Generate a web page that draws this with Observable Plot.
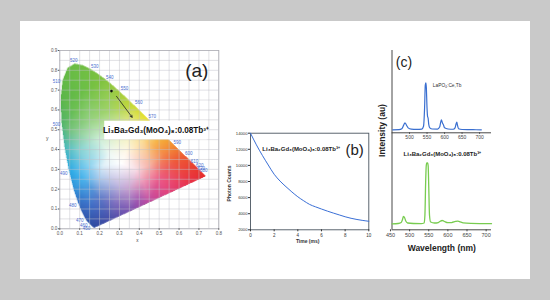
<!DOCTYPE html>
<html><head><meta charset="utf-8">
<script src="https://cdn.jsdelivr.net/npm/d3@7"></script>
<script src="https://cdn.jsdelivr.net/npm/@observablehq/plot@0.6"></script>
<style>
body{margin:0;background:#c9c9c9;}
#page{position:relative;width:550px;height:300px;background:#c9c9c9;overflow:hidden;font-family:"Liberation Sans",Arial,sans-serif;}
#card{position:absolute;left:20px;top:21px;width:510px;height:258px;background:#fff;}
.panel{position:absolute;}
.panel svg{overflow:visible;}
</style></head>
<body>
<div id="page"><div id="card"></div>
<div id="pa" class="panel" style="left:40px;top:40px"></div>
<div id="pb" class="panel" style="left:225px;top:125px"></div>
<div id="pc2" class="panel" style="left:370px;top:132px"></div>
<div id="pc1" class="panel" style="left:370px;top:40px"></div>
</div>
<script>
const FONT = '"Liberation Sans", Arial, sans-serif';
const sampleLabel = "Li₃Ba₂Gd₃(MoO₄)₈:0.08Tb³⁺";

// ---------- (a) CIE 1931 chromaticity diagram ----------
const locusNm = [380,410,430,440,450,460,465,470,475,480,485,490,495,500,505,510,515,520,525,530,535,540,545,550,555,560,565,570,575,580,585,590,595,600,605,610,620,630,640,650,680,700];
const locusX = [0.1741,0.1733,0.1690,0.1644,0.1566,0.1440,0.1355,0.1241,0.1096,0.0913,0.0687,0.0454,0.0235,0.0082,0.0039,0.0139,0.0389,0.0743,0.1142,0.1547,0.1929,0.2296,0.2658,0.3016,0.3373,0.3731,0.4087,0.4441,0.4788,0.5125,0.5448,0.5752,0.6029,0.6270,0.6482,0.6658,0.6915,0.7079,0.7190,0.7260,0.7334,0.7347];
const locusY = [0.0050,0.0048,0.0069,0.0109,0.0177,0.0297,0.0399,0.0578,0.0868,0.1327,0.2007,0.2950,0.4127,0.5384,0.6548,0.7502,0.8120,0.8338,0.8262,0.8059,0.7816,0.7543,0.7243,0.6923,0.6589,0.6245,0.5896,0.5547,0.5202,0.4866,0.4544,0.4242,0.3965,0.3725,0.3514,0.3340,0.3083,0.2920,0.2809,0.2740,0.2666,0.2653];

// colour anchors (x, y, colour)
const anchorX = [0.1741,0.1440,0.1241,0.0913,0.0687,0.0454,0.0235,0.0082,0.0039,0.0139,0.0743,0.1547,0.2296,0.3016,0.3731,0.4441,0.5125,0.5752,0.6270,0.6915,0.7347,
  0.65,0.55,0.45,0.35,0.26,
  0.31,0.33,0.25,0.20,0.15,0.08,0.12,0.25,0.35,0.42,0.47,0.52,0.58,0.45,0.50,0.38,0.35,0.30,0.28,0.40,0.20,0.15,0.20,0.12,0.15,0.22,0.09,0.05,0.42];
const anchorY = [0.0050,0.0297,0.0578,0.1327,0.2007,0.2950,0.4127,0.5384,0.6548,0.7502,0.8338,0.8059,0.7543,0.6923,0.6245,0.5547,0.4866,0.4242,0.3725,0.3083,0.2653,
  0.228,0.181,0.135,0.088,0.046,
  0.33,0.38,0.38,0.45,0.55,0.60,0.70,0.60,0.50,0.45,0.42,0.38,0.34,0.32,0.25,0.30,0.20,0.22,0.13,0.15,0.15,0.12,0.25,0.25,0.32,0.32,0.40,0.50,0.24];
const anchorColor = ["#2b4aa0","#2d52a8","#3058b0","#3470c4","#3090d8","#28a8e4","#48b8b8","#52b468","#5ab54a","#62b946","#6cbd44","#74bf42","#84c43e","#a2cc3a","#c8d932","#ece228","#f6be30","#f28c30","#ee5c30","#e93a2e","#e52a2a",
  "#e8304a","#e2407a","#c048a0","#7850b0","#4a4ea8",
  "#ffffff","#fff8ec","#eef8f4","#cdeed8","#96d282","#6ec155","#6cbf46","#a2d468","#f0f0b0","#fbdc90","#f8b458","#f48a48","#ee5a3c","#f6b4a8","#ec5c88","#f8e0e8","#c8a0d0","#c4b8e0","#8070c0","#a858b0","#5a78c8","#3e70c8","#a8c8ec","#4cb4ec","#90d4f0","#e0f0f8","#80d0d0","#74c27c","#ee9ab8"];

const wlLabels = ["520","530","540","550","560","570","590","600","610","620","630","680","510","500","490","480","470","460","450"];
const wlLabelX = [0.0705,0.176,0.2516,0.3255,0.3975,0.465,0.5906,0.649,0.6777,0.7044,0.7114,0.7245,-0.0166,-0.0166,0.020,0.0654,0.1006,0.1208,0.1343];
const wlLabelY = [0.8495,0.819,0.765,0.7067,0.636,0.567,0.437,0.3816,0.341,0.3195,0.3058,0.2943,0.743,0.5264,0.2806,0.1176,0.0419,0.0167,0.003];

const cieXTicks = [0,0.1,0.2,0.3,0.4,0.5,0.6,0.7,0.8];
const cieYTicks = [0,0.1,0.2,0.3,0.4,0.5,0.6,0.7,0.8,0.9];
const cieGridX = d3.range(0, 0.8001, 0.05);
const cieGridY = d3.range(0, 0.9001, 0.05);
const samplePoint = [{x: 0.26, y: 0.695}];
const sampleArrow = [{x1: 0.285, y1: 0.669, x2: 0.364, y2: 0.563}];
const labelBox = [{x1: 0.226, x2: 0.742, y1: 0.449, y2: 0.543}];
const labelPos = [{x: 0.484, y: 0.496, text: sampleLabel}];

const anchors = anchorX.map((x, i) => ({x, y: anchorY[i], c: d3.rgb(anchorColor[i])}));
const del = d3.Delaunay.from(anchors, d => d.x, d => d.y);
const tris = [];
for (let i = 0; i < del.triangles.length; i += 3) {
  const a = anchors[del.triangles[i]], b = anchors[del.triangles[i+1]], c = anchors[del.triangles[i+2]];
  const det = (b.y - c.y) * (a.x - c.x) + (c.x - b.x) * (a.y - c.y);
  tris.push({a, b, c, det, x0: Math.min(a.x,b.x,c.x), x1: Math.max(a.x,b.x,c.x), y0: Math.min(a.y,b.y,c.y), y1: Math.max(a.y,b.y,c.y)});
}
const locusPoly = locusX.map((x, i) => [x, locusY[i]]);
function cieColor(x, y) {
  if (!d3.polygonContains(locusPoly, [x, y])) return null;
  for (const t of tris) {
    if (x < t.x0 || x > t.x1 || y < t.y0 || y > t.y1) continue;
    const l1 = ((t.b.y - t.c.y) * (x - t.c.x) + (t.c.x - t.b.x) * (y - t.c.y)) / t.det;
    const l2 = ((t.c.y - t.a.y) * (x - t.c.x) + (t.a.x - t.c.x) * (y - t.c.y)) / t.det;
    const l3 = 1 - l1 - l2;
    if (l1 >= -1e-9 && l2 >= -1e-9 && l3 >= -1e-9) {
      const r = l1 * t.a.c.r + l2 * t.b.c.r + l3 * t.c.c.r;
      const g = l1 * t.a.c.g + l2 * t.b.c.g + l3 * t.c.c.g;
      const b = l1 * t.a.c.b + l2 * t.b.c.b + l3 * t.c.c.b;
      return `rgb(${Math.round(r)},${Math.round(g)},${Math.round(b)})`;
    }
  }
  return anchors[del.find(x, y)].c.formatRgb();
}

const wlData = wlLabels.map((t, i) => ({t, x: wlLabelX[i], y: wlLabelY[i]}));

const chartA = Plot.plot({
  width: 190, height: 210,
  marginLeft: 19.3, marginRight: 11.7, marginTop: 10, marginBottom: 21.7,
  style: {fontFamily: FONT, background: "transparent", overflow: "visible"},
  x: {domain: [0, 0.8]}, y: {domain: [0, 0.9]},
  marks: [
    Plot.raster({x1: 0, y1: 0, x2: 0.8, y2: 0.9, fill: cieColor, pixelSize: 0.5, imageRendering: "auto"}),
    Plot.gridX(cieGridX, {stroke: "#c0c0c8", strokeOpacity: 0.8, strokeWidth: 0.6}),
    Plot.gridY(cieGridY, {stroke: "#c0c0c8", strokeOpacity: 0.8, strokeWidth: 0.6}),
    Plot.frame({stroke: "#a8a8b0", strokeWidth: 0.7}),
    Plot.text(wlData, {x: "x", y: "y", text: "t", fill: "#4a6fd0", fontSize: 4.5}),
    Plot.arrow(sampleArrow, {x1: "x1", y1: "y1", x2: "x2", y2: "y2", stroke: "#222", strokeWidth: 0.8, headLength: 4}),
    Plot.dot(samplePoint, {x: "x", y: "y", r: 1.3, fill: "#111"}),
    Plot.rect(labelBox, {x1: "x1", x2: "x2", y1: "y1", y2: "y2", fill: "white"}),
    Plot.text(labelPos, {x: "x", y: "y", text: "text", fontSize: 8.2, fontWeight: "bold", fill: "#111"}),
    Plot.text(["(a)"], {text: d => d, frameAnchor: "top-right", dx: -22, dy: 20, lineAnchor: "middle", textAnchor: "middle", fontSize: 19, fill: "#222"}),
    Plot.axisX({ticks: cieXTicks, tickFormat: d3.format(".1f"), tickSize: 1.5, tickPadding: 1.5, fontSize: 4.5, color: "#555", label: null}),
    Plot.axisY({ticks: cieYTicks, tickFormat: d3.format(".1f"), tickSize: 1.5, tickPadding: 1, fontSize: 4.5, color: "#555", label: null}),
    Plot.text(["x"], {text: d => d, frameAnchor: "bottom", dx: -2, dy: 11.7, lineAnchor: "middle", textAnchor: "middle", fontSize: 4.5, fill: "#444"}),
    Plot.text(["y"], {text: d => d, frameAnchor: "left", dx: -12.6, dy: -1, lineAnchor: "middle", textAnchor: "middle", fontSize: 5, fill: "#444"})
  ]
});
document.getElementById("pa").append(chartA);

// ---------- (b) decay curve ----------
const decayTime = [0,0.5,1,1.5,2,2.5,3,3.5,4,4.5,5,5.5,6,6.5,7,7.5,8,8.5,9,9.5,10];
const decayCounts = [14000,12550,11250,10050,8900,8050,7350,6700,6100,5600,5150,4850,4580,4320,4080,3850,3620,3430,3280,3160,3060];
const decayXTicks = [0,2,4,6,8,10];
const decayYTicks = [2000,4000,6000,8000,10000,12000,14000];
const decayData = decayTime.map((t, i) => ({t, v: decayCounts[i]}));

const chartB = Plot.plot({
  width: 150, height: 122,
  marginLeft: 25, marginRight: 6.7, marginTop: 7.7, marginBottom: 17.7,
  style: {fontFamily: FONT, background: "transparent", overflow: "visible"},
  x: {domain: [0, 10]}, y: {domain: [2000, 14000]},
  marks: [
    Plot.frame({stroke: "#4a5560", strokeWidth: 0.9}),
    Plot.axisY({ticks: decayYTicks, tickFormat: d => String(d), tickSize: 2, tickPadding: 1, fontSize: 4.2, color: "#333", label: null}),
    Plot.axisX({ticks: decayXTicks, tickSize: 2, tickPadding: 1.5, fontSize: 4.5, color: "#333", label: null}),
    Plot.line(decayData, {x: "t", y: "v", stroke: "#3a6fd6", strokeWidth: 1, curve: "monotone-x"}),
    Plot.text(["Photon Counts"], {text: d => d, frameAnchor: "left", dx: -21, dy: 2, rotate: -90, lineAnchor: "middle", textAnchor: "middle", fontSize: 5, fontWeight: "bold", fill: "#333"}),
    Plot.text(["Time (ms)"], {text: d => d, frameAnchor: "bottom", dx: -2, dy: 11.4, lineAnchor: "middle", textAnchor: "middle", fontSize: 5, fontWeight: "bold", fill: "#333"}),
    Plot.text([{x: 1.0, y: 12050, text: sampleLabel}], {x: "x", y: "y", text: "text", textAnchor: "start", fontSize: 6, fontWeight: "bold", fill: "#222"}),
    Plot.text([{x: 8.03, y: 11850, text: "(b)"}], {x: "x", y: "y", text: "text", textAnchor: "start", fontSize: 15, fill: "#222"})
  ]
});
document.getElementById("pb").append(chartB);

// ---------- (c) emission spectra ----------
const refNm = [452,470,478,483,487,491,496,505,520,535,540,543,545,546.5,548,550,551.5,553,555,558,565,580,586,589,591,594,597,600,610,625,630,633,635,637,640,650,670,690,705];
const refI = [3.6,3.8,5,9,12.2,9.5,6,4.5,4.2,4.5,8,30,58,60.8,55,30,20,18,10,6,4.6,4.5,7,13,15.8,12,9.5,6,4.6,4.3,6,11,12.9,9,5,4.0,3.8,3.7,3.6];
const sampNm = [454,470,478,481,484,487,490,495,510,530,538,540,542,543.5,545,547,548.5,550,552,555,565,575,580,585,590,600,610,620,625,630,640,660,690,714];
const sampI = [6.2,6.5,7.5,10,13.7,12.5,9,7,6.5,6.4,7,15,50,66,69,69,66,45,15,8,7,7.5,8.8,9.6,8.8,7.3,7.5,8.6,8.9,8.5,7.2,6.6,6.4,6.3];
const refTicks = [500,550,600,650,700];
const sampTicks = [450,500,550,600,650,700];
const refDomain = [450, 734];
const sampDomain = [454, 714];

const refData = refNm.map((w, i) => ({w, v: refI[i]}));
const sampData = sampNm.map((w, i) => ({w, v: sampI[i]}));

const chartC1 = Plot.plot({
  width: 125, height: 110,
  marginLeft: 21.5, marginRight: 4, marginTop: 10, marginBottom: 17.7,
  style: {fontFamily: FONT, background: "transparent", overflow: "visible"},
  x: {domain: refDomain}, y: {domain: [0, 100], axis: null},
  marks: [
    Plot.ruleY([0], {stroke: "#333", strokeWidth: 0.9}),
    Plot.ruleX([refDomain[0]], {stroke: "#333", strokeWidth: 0.9}),
    Plot.axisX({ticks: refTicks, tickSize: 1.5, tickPadding: 1.5, fontSize: 5, color: "#444", label: null}),
    Plot.line(refData, {x: "w", y: "v", stroke: "#3a6fd0", strokeWidth: 1.2, curve: "monotone-x"}),
    Plot.text([{x: 566.6, y: 57.8, text: "LaPO₄:Ce,Tb"}], {x: "x", y: "y", text: "text", textAnchor: "start", fontSize: 4.8, fill: "#333"}),
    Plot.text(["(c)"], {text: d => d, frameAnchor: "top-left", dx: 12, dy: 12.3, lineAnchor: "middle", textAnchor: "middle", fontSize: 14, fill: "#222"}),
    Plot.text(["Intensity (au)"], {text: d => d, frameAnchor: "bottom-left", dx: -10, dy: -2.3, rotate: -90, lineAnchor: "middle", textAnchor: "middle", fontSize: 8.5, fontWeight: "bold", fill: "#222"})
  ]
});
document.getElementById("pc1").append(chartC1);

const chartC2 = Plot.plot({
  width: 125, height: 122,
  marginLeft: 21.5, marginRight: 4, marginTop: 0.3, marginBottom: 24.7,
  style: {fontFamily: FONT, background: "transparent", overflow: "visible"},
  x: {domain: sampDomain}, y: {domain: [0, 100], axis: null},
  marks: [
    Plot.ruleY([0], {stroke: "#333", strokeWidth: 0.9}),
    Plot.ruleX([sampDomain[0]], {stroke: "#333", strokeWidth: 0.9}),
    Plot.axisX({ticks: sampTicks, tickSize: 2, tickPadding: 1.5, fontSize: 5.5, color: "#444", label: null}),
    Plot.line(sampData, {x: "w", y: "v", stroke: "#78cc50", strokeWidth: 1.3, curve: "monotone-x"}),
    Plot.text([{x: 484.3, y: 78.4, text: sampleLabel}], {x: "x", y: "y", text: "text", textAnchor: "start", fontSize: 6, fontWeight: "bold", fill: "#222"}),
    Plot.text(["Wavelength (nm)"], {text: d => d, frameAnchor: "bottom", dx: 0, dy: 18, lineAnchor: "middle", textAnchor: "middle", fontSize: 8.5, fontWeight: "bold", fill: "#222"})
  ]
});
document.getElementById("pc2").append(chartC2);
</script>
</body></html>
